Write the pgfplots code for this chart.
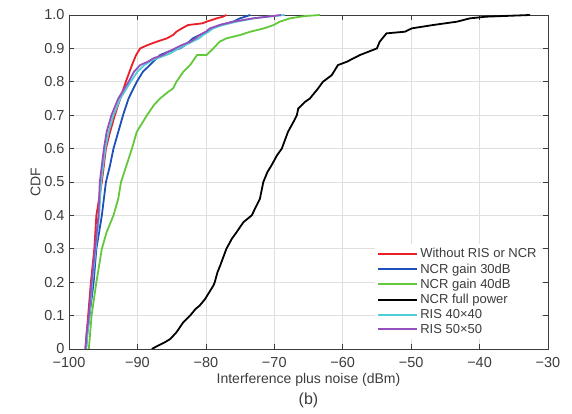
\documentclass[border=0pt]{standalone}
\usepackage{fontspec}
\setmainfont{Liberation Sans}
\usepackage{pgfplots}
\pgfplotsset{compat=1.18}
\usepackage{pgfplotstable}
\definecolor{cred}{RGB}{235,30,40}
\definecolor{cblue}{RGB}{30,80,185}
\definecolor{cgreen}{RGB}{100,200,60}
\definecolor{ccyan}{RGB}{80,205,215}
\definecolor{cpurple}{RGB}{150,80,190}
\definecolor{axgray}{RGB}{60,60,60}

\pgfplotstableread{
x y
-97.6 0
-97.5 0.03
-97.2 0.10
-96.8 0.20
-96.3 0.30
-96.0 0.40
-95.6 0.45
-95.2 0.50
-94.9 0.55
-94.6 0.60
-94.0 0.65
-93.3 0.70
-92.5 0.75
-91.7 0.80
-90.8 0.85
-90.2 0.88
-89.6 0.90
-88.5 0.91
-87.2 0.92
-85.7 0.93
-84.8 0.94
-84.3 0.95
-83.5 0.96
-82.6 0.97
-80.5 0.975
-79.9 0.98
-78.4 0.99
-77.5 0.995
-77.0 1.0
}\without

\pgfplotstableread{
x y
-97.5 0
-97.3 0.05
-97.0 0.10
-96.4 0.20
-96.0 0.30
-95.2 0.40
-94.6 0.50
-94.0 0.55
-93.5 0.60
-92.8 0.65
-92.1 0.70
-91.3 0.75
-90.1 0.80
-89.2 0.83
-88.2 0.85
-86.7 0.88
-85.5 0.89
-83.8 0.90
-83.0 0.91
-81.9 0.93
-80.9 0.94
-79.9 0.95
-79.0 0.96
-77.9 0.97
-76.0 0.98
-75.0 0.99
-73.5 1.0
}\ncrthirty

\pgfplotstableread{
x y
-97.1 0
-96.9 0.05
-96.7 0.10
-96.0 0.20
-95.2 0.30
-94.5 0.35
-93.5 0.40
-92.8 0.45
-92.4 0.50
-91.6 0.55
-90.8 0.60
-90.1 0.65
-88.6 0.70
-87.6 0.73
-86.7 0.75
-85.5 0.77
-84.8 0.78
-84.3 0.80
-83.3 0.83
-82.3 0.85
-81.3 0.88
-79.9 0.88
-78.9 0.90
-78.0 0.92
-77.0 0.93
-75.0 0.94
-73.5 0.95
-71.5 0.96
-70.1 0.97
-69.2 0.98
-67.7 0.99
-65.5 0.997
-63.3 1.0
}\ncrforty

\pgfplotstableread{
x y
-87.9 0
-87.0 0.01
-86.0 0.02
-85.2 0.03
-84.3 0.05
-83.3 0.08
-82.3 0.10
-81.5 0.12
-80.9 0.13
-80.1 0.15
-79.5 0.17
-78.9 0.19
-78.7 0.20
-78.3 0.23
-77.9 0.25
-77.0 0.30
-76.2 0.33
-75.5 0.35
-74.5 0.38
-73.3 0.40
-72.1 0.45
-71.6 0.50
-71.0 0.53
-70.4 0.55
-69.6 0.58
-68.9 0.60
-68.0 0.65
-67.2 0.68
-66.7 0.70
-66.5 0.72
-65.5 0.74
-64.8 0.75
-63.6 0.78
-62.9 0.80
-61.6 0.82
-60.7 0.85
-59.4 0.86
-57.5 0.88
-55.0 0.90
-54.6 0.92
-53.6 0.945
-50.9 0.95
-49.9 0.96
-46.8 0.97
-43.3 0.98
-41.4 0.99
-39.0 0.995
-32.6 1.0
}\ncrfull

\pgfplotstableread{
x y
-97.5 0
-97.3 0.05
-97.0 0.10
-96.6 0.20
-96.1 0.30
-95.6 0.40
-95.3 0.50
-94.7 0.60
-94.2 0.65
-93.5 0.70
-92.5 0.75
-91.0 0.80
-90.0 0.83
-89.0 0.85
-87.8 0.865
-86.5 0.875
-85.2 0.885
-84.0 0.90
-83.0 0.91
-82.0 0.92
-81.0 0.93
-80.4 0.94
-79.6 0.95
-79.0 0.96
-77.5 0.97
-75.5 0.98
-73.0 0.99
-70.0 0.997
-68.5 1.0
}\risforty

\pgfplotstableread{
x y
-97.6 0
-97.4 0.05
-97.1 0.10
-96.7 0.20
-96.2 0.30
-95.7 0.40
-95.5 0.50
-94.9 0.60
-94.5 0.65
-93.8 0.70
-92.8 0.75
-91.3 0.80
-90.5 0.83
-89.6 0.85
-88.5 0.86
-87.7 0.87
-86.3 0.88
-85.5 0.89
-84.5 0.90
-83.5 0.91
-82.3 0.92
-81.5 0.93
-80.9 0.94
-80.0 0.95
-79.4 0.96
-78.0 0.97
-76.0 0.98
-73.1 0.99
-71.0 0.995
-69.0 1.0
}\risfifty

\begin{document}
\begin{tikzpicture}
\useasboundingbox (-69pt,-65pt) rectangle (503pt,349pt);
\begin{axis}[
  scale only axis,
  width=479pt, height=334pt,
  xmin=-100, xmax=-30, ymin=0, ymax=1,
  xtick={-100,-90,...,-30},
  xticklabels={−100,−90,−80,−70,−60,−50,−40,−30},
  ytick={0,0.1,...,1.0},
  yticklabels={0,0.1,0.2,0.3,0.4,0.5,0.6,0.7,0.8,0.9,1.0},
  tick align=inside,
  major tick length=5pt,
  axis line style={axgray, line width=0.8pt},
  tick style={axgray, line width=0.6pt},
  grid=major,
  grid style={gray!25, line width=0.6pt},
  ticklabel style={font=\fontsize{14.5}{15}\selectfont, text=axgray},
  xticklabel style={yshift=-5pt},
  yticklabel style={xshift=-1pt},
  xlabel={Interference plus noise (dBm)},
  ylabel={CDF},
  xlabel style={font=\fontsize{14}{15}\selectfont, text=axgray, yshift=1pt},
  ylabel style={font=\fontsize{14}{15}\selectfont, text=axgray, yshift=-3pt},
  legend style={at={(0.985,0.03)}, anchor=south east, draw=none, fill=white,
    font=\fontsize{13}{14}\selectfont, text=axgray,
    row sep=0.3pt, inner sep=2pt},
  legend cell align=left,
  legend image code/.code={\draw[#1, line width=2pt] (0pt,0pt) -- (39pt,0pt);},
  every axis plot/.append style={line width=1.8pt},
]
\addplot[cred] table {\without};
\addplot[cblue] table {\ncrthirty};
\addplot[cgreen] table {\ncrforty};
\addplot[black] table {\ncrfull};
\addplot[ccyan] table {\risforty};
\addplot[cpurple] table {\risfifty};
\legend{Without RIS or NCR, NCR gain 30dB, NCR gain 40dB, NCR full power, RIS 40×40, RIS 50×50}
\end{axis}
\node[font=\fontsize{16}{17}\selectfont, text=axgray] at (239.5pt,-51pt) {(b)};
\end{tikzpicture}
\end{document}
